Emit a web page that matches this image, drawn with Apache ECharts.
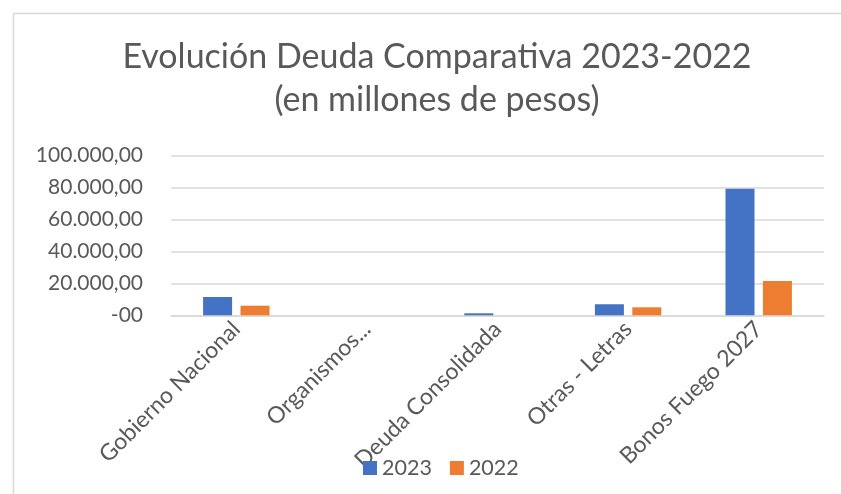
<!DOCTYPE html>
<html>
<head>
<meta charset="utf-8">
<script src="https://cdn.jsdelivr.net/npm/echarts@6/dist/echarts.min.js"></script>
<style>html,body{margin:0;padding:0;background:#fff}#c{width:841px;height:494px}</style>
</head>
<body>
<div id="c"></div>
<script>
const categories = ["Gobierno Nacional", "Organismos...", "Deuda Consolidada", "Otras - Letras", "Bonos Fuego 2027"];
const values2023 = [11450, 0, 1250, 6900, 79100];
const values2022 = [6000, 0, 0, 5000, 21450];
const seriesNames = ["2023", "2022"];
const yTicks = [0, 20000, 40000, 60000, 80000, 100000];

const FONT = "Lato";
const TXT = "#595959";

function fmt(v) {
  if (v === 0) return "-00";
  const s = Math.round(v).toString().replace(/\B(?=(\d{3})+(?!\d))/g, ".");
  return s + ",00";
}

const chart = echarts.init(document.getElementById("c"), null, {renderer: "canvas"});
chart.setOption({
  animation: false,
  backgroundColor: "#fff",
  graphic: [{
    type: "rect", left: 11, top: 11, shape: {width: 900, height: 600},
    style: {fill: "none", stroke: "#D9D9D9", lineWidth: 1.5}, silent: true, z: -1
  }],
  title: {
    text: "Evolución Deuda Comparativa 2023-2022\n(en millones de pesos)",
    left: 432, top: 31, textAlign: "center",
    textStyle: {fontFamily: FONT, fontSize: 34, fontWeight: "normal", color: TXT, lineHeight: 43}
  },
  legend: {
    data: seriesNames, left: 358, top: 452,
    itemWidth: 14, itemHeight: 14, itemGap: 18, itemTextGap: 1,
    icon: "rect",
    textStyle: {fontFamily: FONT, fontSize: 21.5, color: TXT}
  },
  grid: {left: 171, right: 17, top: 155.3, bottom: 178.7, containLabel: false},
  xAxis: {
    type: "category", data: categories,
    axisLine: {lineStyle: {color: "#D9D9D9", width: 1.5}},
    axisTick: {show: false},
    axisLabel: {rotate: 45, interval: 0, margin: 10, fontFamily: FONT, fontSize: 23, color: TXT}
  },
  yAxis: {
    type: "value", min: yTicks[0], max: yTicks[yTicks.length - 1], interval: yTicks[1] - yTicks[0],
    axisLine: {show: false}, axisTick: {show: false},
    splitLine: {lineStyle: {color: "#D9D9D9", width: 1.5}},
    axisLabel: {formatter: fmt, margin: 28, fontFamily: FONT, fontSize: 21, color: TXT}
  },
  series: [
    {name: seriesNames[0], type: "bar", data: values2023, barWidth: 29, barGap: "29%",
     itemStyle: {color: "#4472C4"}},
    {name: seriesNames[1], type: "bar", data: values2022, barWidth: 29,
     itemStyle: {color: "#ED7D31"}}
  ]
});
</script>
</body>
</html>
